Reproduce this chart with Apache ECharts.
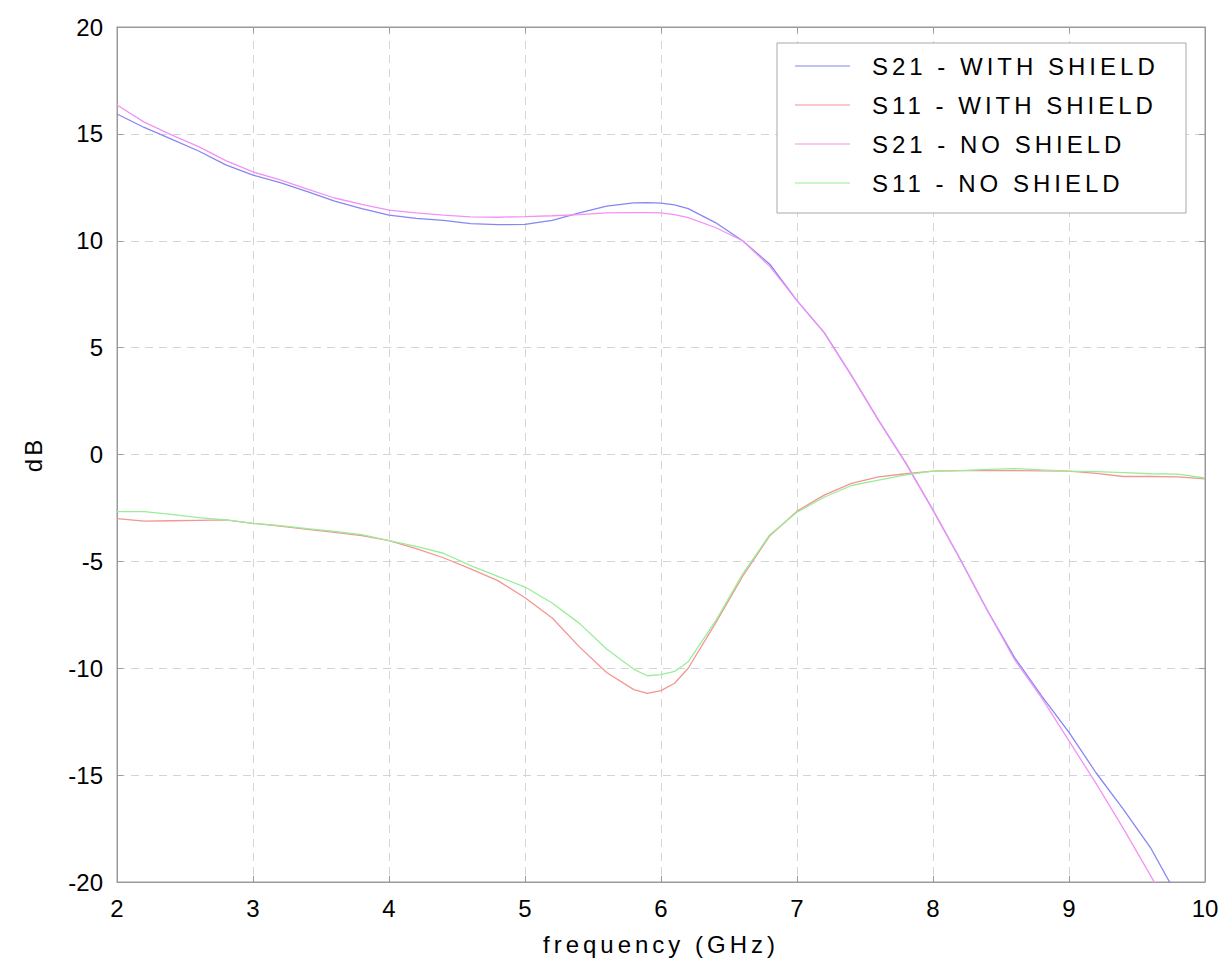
<!DOCTYPE html>
<html>
<head>
<meta charset="utf-8">
<title>S-parameters with and without shield</title>
<script src="https://cdn.jsdelivr.net/npm/echarts@6/dist/echarts.min.js"></script>
<style>
  html, body { margin: 0; padding: 0; background: #ffffff; }
  #chart { width: 1227px; height: 970px; }
</style>
</head>
<body>
<div id="chart"></div>
<script>
// Frequency sample points (GHz)
const freq = [2.0, 2.2, 2.4, 2.6, 2.8, 3.0, 3.2, 3.4, 3.6, 3.8, 4.0, 4.2, 4.4, 4.6, 4.8,
  5.0, 5.2, 5.4, 5.6, 5.8, 5.9, 6.0, 6.1, 6.2, 6.4, 6.6, 6.8, 7.0, 7.2, 7.4, 7.6, 7.8,
  8.0, 8.2, 8.4, 8.6, 8.8, 9.0, 9.2, 9.4, 9.6, 9.8, 10.0];

// Measured responses (dB)
const s21WithShield = [15.93, 15.3, 14.75, 14.2, 13.55, 13.07, 12.72, 12.3, 11.85, 11.5, 11.2, 11.05, 10.95, 10.8, 10.75,
  10.77, 10.95, 11.3, 11.62, 11.77, 11.78, 11.76, 11.68, 11.5, 10.85, 10.0, 8.9, 7.2, 5.7, 3.7, 1.6, -0.4,
  -2.6, -4.9, -7.3, -9.5, -11.3, -13.0, -14.9, -16.6, -18.4, -20.7, -23.0];

const s11WithShield = [-3.0, -3.12, -3.1, -3.08, -3.06, -3.22, -3.35, -3.5, -3.64, -3.8, -4.03, -4.4, -4.83, -5.35, -5.9,
  -6.7, -7.65, -9.0, -10.2, -11.0, -11.18, -11.05, -10.7, -10.0, -7.9, -5.7, -3.8, -2.65, -1.9, -1.35, -1.05, -0.9,
  -0.78, -0.75, -0.75, -0.75, -0.77, -0.78, -0.88, -1.03, -1.03, -1.05, -1.14];

const s21NoShield = [16.35, 15.55, 14.95, 14.4, 13.75, 13.22, 12.85, 12.42, 12.0, 11.7, 11.43, 11.3, 11.2, 11.12, 11.1,
  11.13, 11.17, 11.22, 11.3, 11.32, 11.32, 11.3, 11.22, 11.08, 10.62, 10.0, 8.8, 7.2, 5.7, 3.7, 1.6, -0.4,
  -2.6, -4.9, -7.3, -9.6, -11.4, -13.4, -15.4, -17.5, -19.7, -22.0, -24.3];

const s11NoShield = [-2.67, -2.67, -2.8, -2.95, -3.06, -3.22, -3.33, -3.47, -3.6, -3.75, -4.03, -4.3, -4.62, -5.2, -5.7,
  -6.2, -6.95, -7.9, -9.1, -10.05, -10.35, -10.3, -10.15, -9.7, -7.8, -5.6, -3.75, -2.7, -2.0, -1.45, -1.2, -0.95,
  -0.78, -0.75, -0.7, -0.66, -0.72, -0.78, -0.8, -0.85, -0.9, -0.92, -1.1];

const seriesNames = ['S21 - WITH SHIELD', 'S11 - WITH SHIELD', 'S21 - NO SHIELD', 'S11 - NO SHIELD'];
const seriesValues = [s21WithShield, s11WithShield, s21NoShield, s11NoShield];
const seriesColors = ['#8686f4', '#f49494', '#f492f4', '#98ee98'];

const X_NAME = 'frequency (GHz)';
const Y_NAME = 'dB';

const FONT = '"Liberation Sans", Arial, sans-serif';
const AXIS_GREY = '#9a9a9a';

const chart = echarts.init(document.getElementById('chart'), null, { renderer: 'svg' });

// Legend entries and axis titles are set with wide letter spacing
const spacedTexts = new Set([...seriesNames, X_NAME, Y_NAME]);
function spaceOutTexts() {
  document.querySelectorAll('#chart text').forEach(t => {
    const s = t.textContent.trim();
    if (spacedTexts.has(s)) {
      t.style.letterSpacing = (s === Y_NAME) ? '3px' : '4px';
    }
  });
}
chart.on('finished', spaceOutTexts);

const pairs = values => freq.map((f, i) => [f, values[i]]);

const gridLine = {
  show: true,
  lineStyle: { color: '#d4d4d4', type: [8, 6], width: 1 }
};

chart.setOption({
  animation: false,
  backgroundColor: '#ffffff',
  textStyle: { fontFamily: FONT },
  grid: {
    left: 117, right: 22, top: 27, bottom: 88,
    show: true, borderColor: AXIS_GREY, borderWidth: 1
  },
  legend: {
    orient: 'vertical',
    left: 777,
    top: 43,
    data: seriesNames,
    icon: 'rect',
    itemWidth: 55,
    itemHeight: 1.2,
    itemGap: 13,
    padding: [10, 14, 17, 18],
    backgroundColor: '#ffffff',
    borderColor: '#a8a8a8',
    borderWidth: 1,
    borderRadius: 0,
    textStyle: {
      fontFamily: FONT, fontSize: 24, color: '#000000',
      lineHeight: 26, width: 300, padding: [0, 0, 0, 17]
    }
  },
  xAxis: [{
    type: 'value',
    min: 2, max: 10, interval: 1,
    name: X_NAME,
    nameLocation: 'middle',
    nameGap: 50,
    nameTextStyle: { fontFamily: FONT, fontSize: 24, color: '#000000' },
    axisLine: { show: true, onZero: false, lineStyle: { color: AXIS_GREY } },
    axisTick: { show: true, inside: true, length: 6, lineStyle: { color: AXIS_GREY } },
    axisLabel: { fontFamily: FONT, fontSize: 24, color: '#000000', margin: 14 },
    splitLine: gridLine
  }, {
    type: 'value',
    position: 'top',
    min: 2, max: 10, interval: 1,
    axisLine: { show: true, onZero: false, lineStyle: { color: AXIS_GREY } },
    axisTick: { show: true, inside: true, length: 6, lineStyle: { color: AXIS_GREY } },
    axisLabel: { show: false },
    splitLine: { show: false }
  }],
  yAxis: [{
    type: 'value',
    min: -20, max: 20, interval: 5,
    name: Y_NAME,
    nameLocation: 'middle',
    nameGap: 72,
    nameTextStyle: { fontFamily: FONT, fontSize: 24, color: '#000000' },
    axisLine: { show: true, onZero: false, lineStyle: { color: AXIS_GREY } },
    axisTick: { show: true, inside: true, length: 6, lineStyle: { color: AXIS_GREY } },
    axisLabel: { fontFamily: FONT, fontSize: 24, color: '#000000', margin: 14 },
    splitLine: gridLine
  }, {
    type: 'value',
    position: 'right',
    min: -20, max: 20, interval: 5,
    axisLine: { show: true, onZero: false, lineStyle: { color: AXIS_GREY } },
    axisTick: { show: true, inside: true, length: 6, lineStyle: { color: AXIS_GREY } },
    axisLabel: { show: false },
    splitLine: { show: false }
  }],
  series: seriesNames.map((name, k) => ({
    name: name,
    type: 'line',
    xAxisIndex: 0,
    yAxisIndex: 0,
    data: pairs(seriesValues[k]),
    symbol: 'none',
    clip: true,
    color: seriesColors[k],
    lineStyle: { color: seriesColors[k], width: 1.3 }
  }))
});

spaceOutTexts();
setTimeout(spaceOutTexts, 0);
</script>
</body>
</html>
